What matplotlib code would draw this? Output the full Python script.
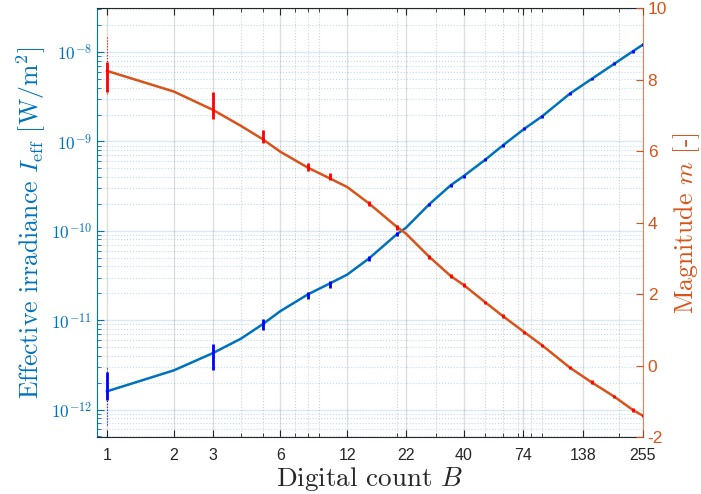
import numpy as np
import matplotlib
matplotlib.use('Agg')
import matplotlib.pyplot as plt
from matplotlib.ticker import FixedLocator, LogLocator, NullFormatter

plt.rcParams['mathtext.fontset'] = 'cm'
plt.rcParams['font.family'] = ['Liberation Sans', 'DejaVu Sans']

BLUE = '#0072BD'
ORANGE = '#D95319'

###data
# fitted curves
B_line = [1, 2, 3, 4, 5, 6, 8, 10, 12, 15, 20, 22, 28, 35, 40, 50, 60, 75,
          90, 120, 150, 190, 230, 255]
I_line = [1.60e-12, 2.75e-12, 4.30e-12, 6.22e-12, 9.0e-12, 1.26e-11,
          1.95e-11, 2.57e-11, 3.24e-11, 4.89e-11, 9.12e-11, 1.08e-10,
          1.98e-10, 3.24e-10, 4.10e-10, 6.25e-10, 9.04e-10, 1.39e-9,
          1.91e-9, 3.43e-9, 4.99e-9, 7.41e-9, 1.02e-8, 1.21e-8]
m_line = [8.25, 7.67, 7.155, 6.71, 6.34, 5.99, 5.54, 5.245, 5.0, 4.545,
          3.89, 3.70, 3.05, 2.51, 2.26, 1.776, 1.39, 0.937, 0.573, -0.053,
          -0.46, -0.864, -1.236, -1.396]

# measured spread
B_meas = [1, 3, 5, 8, 10, 15, 20, 28, 35, 40, 50, 60, 75, 90, 120, 150,
          190, 230, 255]
I_lo = [1.27e-12, 2.80e-12, 7.85e-12, 1.74e-11, 2.32e-11, 4.6e-11, 8.7e-11,
        1.90e-10, 3.12e-10, 3.95e-10, 6.03e-10, 8.72e-10, 1.34e-9, 1.84e-9,
        3.31e-9, 4.81e-9, 7.15e-9, 9.84e-9, 1.17e-8]
I_hi = [2.64e-12, 5.47e-12, 1.02e-11, 2.07e-11, 2.72e-11, 5.2e-11, 9.6e-11,
        2.06e-10, 3.36e-10, 4.25e-10, 6.48e-10, 9.37e-10, 1.44e-9, 1.98e-9,
        3.55e-9, 5.17e-9, 7.67e-9, 1.06e-8, 1.25e-8]
m_lo = [7.667, 6.90, 6.24, 5.457, 5.197, 4.48, 3.80, 3.00, 2.46, 2.21, 1.73,
        1.34, 0.89, 0.53, -0.10, -0.51, -0.91, -1.28, -1.44]
m_hi = [8.506, 7.667, 6.596, 5.664, 5.385, 4.61, 3.94, 3.10, 2.56, 2.31,
        1.82, 1.44, 0.98, 0.62, -0.01, -0.41, -0.82, -1.19, -1.35]
# faint outliers at B = 1
I_out = [6.7e-13, 3.0e-12]
m_out = [7.6, 9.25]

xticks = [1, 2, 3, 6, 12, 22, 40, 74, 138, 255]
yticks_I = [1e-12, 1e-11, 1e-10, 1e-9, 1e-8]
yticks_m = [-2, 0, 2, 4, 6, 8, 10]

fig = plt.figure(figsize=(7.01, 4.94), dpi=100)
ax = fig.add_axes([0.138, 0.1148, 0.779, 0.8684])
ax2 = ax.twinx()

###irradiance, left axis
ax.plot(B_line, I_line, color=BLUE, lw=1.8, zorder=3)
ax.vlines([1], I_out[0], I_out[1], color='#0000ff', lw=0.8, linestyles=':', zorder=4)
ax.vlines(B_meas, I_lo, I_hi, color='#0000ff', lw=2.0, zorder=4)
ax.set_xscale('log')
ax.set_yscale('log')
ax.set_xlim(0.9, 255)
ax.set_ylim(10**-12.31, 10**-7.51)

ax.xaxis.set_major_locator(FixedLocator(xticks))
ax.set_xticklabels([str(t) for t in xticks])
ax.xaxis.set_minor_locator(LogLocator(subs=np.arange(2, 10), numticks=20))
ax.xaxis.set_minor_formatter(NullFormatter())
ax.yaxis.set_major_locator(FixedLocator(yticks_I))
ax.set_yticklabels([r'$\mathsf{10^{%d}}$' % int(np.log10(t)) for t in yticks_I])
ax.yaxis.set_minor_locator(LogLocator(subs=np.arange(2, 10), numticks=20))
ax.yaxis.set_minor_formatter(NullFormatter())

ax.tick_params(axis='x', which='both', direction='in', top=True,
               colors='#262626', labelsize=11.5)
ax.tick_params(axis='x', which='major', length=5, pad=8)
ax.tick_params(axis='x', which='minor', length=3)
ax.tick_params(axis='y', which='both', direction='in', right=False,
               colors=BLUE, labelsize=12.5)
ax.tick_params(axis='y', which='major', length=5)
ax.tick_params(axis='y', which='minor', length=3)

ax.grid(which='major', axis='x', color='#262626', alpha=0.15, lw=1.0)
ax.grid(which='minor', axis='x', color='#262626', alpha=0.2, lw=0.8, ls=':')
ax.grid(which='major', axis='y', color=BLUE, alpha=0.15, lw=1.0)
ax.grid(which='minor', axis='y', color=BLUE, alpha=0.25, lw=0.8, ls=':')

ax.spines['left'].set_color(BLUE)
ax.spines['bottom'].set_color('#262626')
ax.spines['top'].set_color('#262626')
ax.spines['right'].set_visible(False)

ax.set_xlabel(r'Digital count $B$', fontfamily='cmr10', fontsize=19.5,
              color='#262626', labelpad=1)
ax.set_ylabel(r'Effective irradiance $I_{\mathrm{eff}}$ $[\mathrm{W/m^2}]$',
              fontfamily='cmr10', fontsize=18.5, color=BLUE, labelpad=2)

###magnitude, right axis
ax2.plot(B_line, m_line, color=ORANGE, lw=1.8, zorder=3)
ax2.vlines([1], m_out[0], m_out[1], color='#ff0000', lw=0.8, linestyles=':', zorder=4)
ax2.vlines(B_meas, m_lo, m_hi, color='#ff0000', lw=2.0, zorder=4)
ax2.set_ylim(-2, 10)
ax2.set_yticks(yticks_m)
ax2.set_yticklabels([str(t) for t in yticks_m])
ax2.tick_params(axis='y', direction='in', length=5, colors=ORANGE, labelsize=12.5)
for s in ['left', 'top', 'bottom']:
    ax2.spines[s].set_visible(False)
ax2.spines['right'].set_color(ORANGE)
ax2.spines['right'].set_alpha(0.7)
ax2.set_ylabel(r'Magnitude $m$ [-]', fontfamily='cmr10', fontsize=18.5,
               color=ORANGE, labelpad=3)

fig.savefig('out.png', dpi=100)
